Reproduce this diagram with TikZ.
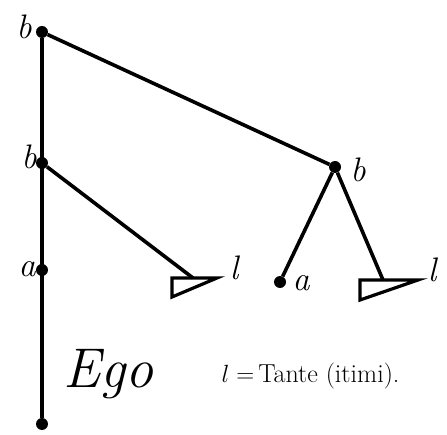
\documentclass[tikz,border=0pt]{standalone}
\usetikzlibrary{positioning}
\tikzset{
  dot/.style={circle,fill,inner sep=0pt,minimum size=12pt},
  kin/.style={font=\fontsize{34}{38}\selectfont\itshape,inner sep=1pt},
  edge/.style={line width=3.6pt},
  tri/.style={line width=3.2pt,line join=miter},
}

\begin{document}
\begin{tikzpicture}[x=1pt,y=-1pt]
\useasboundingbox (0,0) rectangle (447,435);
% ego line
\node[dot] (b1) at (42,32) {};
\node[dot] (b2) at (42,163) {};
\node[dot] (a1) at (42,270) {};
\node[dot] (ego) at (42,424) {};
% right side
\node[dot] (b3) at (335,167) {};
\node[dot] (a2) at (280,282) {};
\coordinate (l1) at (193,278);
\coordinate (l2) at (383,280);
\draw[tri] (172,278) -- (217,278) -- (172,297) -- cycle;
\draw[tri] (360,280) -- (418,280) -- (360,300) -- cycle;
\draw[edge] (b1) -- (ego);
\draw[edge] (b1) -- (b3);
\draw[edge] (b2) -- (l1);
\draw[edge] (b3) -- (a2);
\draw[edge] (b3) -- (l2);
% labels
\node[kin] (tb1) at (24,27) {b};
\node[kin] (tb2) at (29,157) {b};
\node[kin] (ta1) at (27,269) {a};
\node[kin] (tb3) at (358,170) {b};
\node[kin] (ta2) at (301,283) {a};
\node[kin] (tl1) at (234,268) {l};
\node[kin] (tl2) at (432,270) {l};
\node[font=\fontsize{56}{60}\selectfont\itshape,anchor=west] (tego) at (60,374) {Ego};
\node[font=\fontsize{26}{30}\selectfont,anchor=west] (key) at (218,376) {$l=\,$Tante (itimi).};
\end{tikzpicture}
\end{document}
